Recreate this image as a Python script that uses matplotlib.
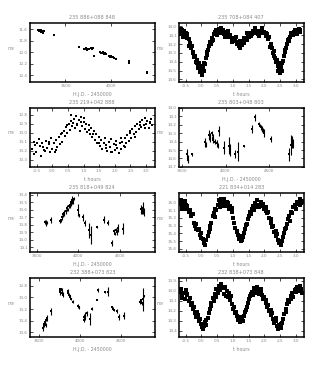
import matplotlib
matplotlib.use('Agg')
import matplotlib.pyplot as plt
import numpy as np

# ---- titles / labels
titles = ['235 886+088 848', '235 708+084 407',
          '235 219+042 888', '235 803+048 803',
          '235 818+049 824', '221 834+014 283',
          '232 388+073 823', '232 838+073 848']
time_label = 'H.J.D. - 2450000'
phase_label = 't hours'
mag_label = '$m_V$'
phase_ticks = [-0.5, 0.0, 0.5, 1.0, 1.5, 2.0, 2.5, 3.0]

# ---- panel 1 (time series)
t1_x = [3197, 3205, 3212, 3220, 3228, 3236, 3245, 3255, 3263, 3372,
        3653, 3700, 3712, 3725, 3738, 3750, 3762, 3775, 3788, 3800, 3810,
        3883, 3892, 3900, 3910, 3918, 3928, 3937, 3945,
        3982, 3992, 4002, 4012, 4022, 4035, 4051, 4194, 4196, 4394, 4400]
t1_y = [11.61, 11.63, 11.62, 11.64, 11.62, 11.65, 11.63, 11.66, 11.64, 11.71,
        11.91, 11.94, 11.95, 11.93, 11.96, 11.94, 11.95, 11.93, 11.94, 11.92, 12.06,
        12.00, 12.02, 12.01, 12.00, 12.03, 12.01, 12.02, 12.04,
        12.07, 12.08, 12.07, 12.09, 12.09, 12.10, 12.11, 12.15, 12.19, 12.35, 12.36]

# ---- panel 2 (phase)
p2_x = [-0.68, -0.65, -0.62, -0.60, -0.57, -0.55, -0.52, -0.50, -0.47, -0.44,
        -0.40, -0.36, -0.33, -0.30, -0.27, -0.24, -0.21, -0.18, -0.15, -0.12,
        -0.09, -0.06, -0.03, 0.00, 0.03, 0.06, 0.09, 0.12, 0.15, 0.18,
        0.21, 0.24, 0.27, 0.30, 0.33, 0.36, 0.40, 0.44, 0.48, 0.52,
        0.56, 0.60, 0.64, 0.68, 0.72, 0.76, 0.80, 0.84, 0.88, 0.92,
        0.96, 1.00, 1.04, 1.08, 1.12, 1.16, 1.20, 1.24, 1.28, 1.32,
        1.36, 1.40, 1.44, 1.48, 1.52, 1.56, 1.60, 1.64, 1.68, 1.72,
        1.76, 1.80, 1.84, 1.88, 1.92, 1.96, 2.00, 2.04, 2.08, 2.12,
        2.16, 2.20, 2.24, 2.27, 2.30, 2.33, 2.36, 2.39, 2.42, 2.45,
        2.48, 2.51, 2.54, 2.57, 2.60, 2.63, 2.66, 2.69, 2.72, 2.75,
        2.78, 2.82, 2.86, 2.90, 2.94, 2.98, 3.02, 3.06, 3.10, 3.14,
        -0.63, -0.58, -0.49, -0.38, -0.26, -0.14, -0.02, 0.07, 0.19, 0.34,
        0.50, 0.62, 0.74, 0.86, 0.98, 1.10, 1.22, 1.34, 1.46, 1.58,
        1.70, 1.82, 1.94, 2.06, 2.18, 2.31, 2.43, 2.55, 2.67, 2.80,
        2.92, 3.04, 3.12]
p2_y = [14.06, 14.09, 14.04, 14.08, 14.11, 14.05, 14.10, 14.07, 14.13, 14.09,
        14.14, 14.19, 14.25, 14.22, 14.30, 14.35, 14.33, 14.40, 14.38, 14.44,
        14.47, 14.42, 14.52, 14.49, 14.55, 14.46, 14.41, 14.43, 14.36, 14.32,
        14.27, 14.22, 14.18, 14.20, 14.13, 14.15, 14.09, 14.06, 14.04, 14.08,
        14.03, 14.05, 14.07, 14.04, 14.09, 14.06, 14.10, 14.08, 14.12, 14.10,
        14.15, 14.13, 14.17, 14.15, 14.20, 14.18, 14.22, 14.17, 14.21, 14.16,
        14.19, 14.13, 14.15, 14.10, 14.12, 14.07, 14.09, 14.05, 14.08, 14.04,
        14.06, 14.09, 14.05, 14.07, 14.04, 14.08, 14.06, 14.11, 14.09, 14.14,
        14.12, 14.20, 14.25, 14.30, 14.28, 14.36, 14.40, 14.38, 14.45, 14.50,
        14.47, 14.53, 14.46, 14.42, 14.39, 14.33, 14.29, 14.24, 14.20, 14.15,
        14.17, 14.12, 14.08, 14.10, 14.06, 14.04, 14.07, 14.05, 14.03, 14.06,
        14.03, 14.12, 14.10, 14.22, 14.29, 14.41, 14.45, 14.51, 14.29, 14.17,
        14.10, 14.02, 14.12, 14.05, 14.18, 14.12, 14.25, 14.13, 14.07, 14.11,
        14.02, 14.11, 14.02, 14.08, 14.23, 14.33, 14.41, 14.50, 14.27, 14.14,
        14.08, 14.09, 14.04]

# ---- panel 3 (phase)
p3_x = [-0.65, -0.60, -0.56, -0.52, -0.48, -0.44, -0.40, -0.36, -0.32, -0.28,
        -0.24, -0.20, -0.16, -0.12, -0.08, -0.04, 0.00, 0.04, 0.08, 0.12,
        0.16, 0.20, 0.24, 0.28, 0.32, 0.36, 0.40, 0.44, 0.48, 0.52,
        0.56, 0.60, 0.64, 0.68, 0.72, 0.76, 0.80, 0.84, 0.88, 0.92,
        0.96, 1.00, 1.04, 1.08, 1.12, 1.16, 1.20, 1.24, 1.28, 1.32,
        1.36, 1.40, 1.44, 1.48, 1.52, 1.56, 1.60, 1.64, 1.68, 1.72,
        1.76, 1.80, 1.84, 1.88, 1.92, 1.96, 2.00, 2.04, 2.08, 2.12,
        2.16, 2.20, 2.24, 2.28, 2.32, 2.36, 2.40, 2.44, 2.48, 2.52,
        2.56, 2.60, 2.64, 2.68, 2.72, 2.76, 2.80, 2.84, 2.88, 2.92,
        2.96, 3.00, 3.04, 3.08, 3.12, 3.16, 3.20,
        -0.58, -0.30, -0.10, 0.10, 0.30, 0.46, 0.58, 0.66, 0.78, 0.90,
        1.02, 1.18, 1.30, 1.50, 1.70, 1.86, 2.02, 2.18, 2.34, 2.50,
        2.66, 2.82, 2.98, 3.14]
p3_y = [13.18, 13.10, 13.14, 13.22, 13.12, 13.07, 13.15, 13.26, 13.11, 13.19,
        13.20, 13.09, 13.17, 13.13, 13.21, 13.06, 13.18, 13.12, 13.22, 13.08,
        13.16, 13.05, 13.13, 13.02, 13.10, 12.98, 13.04, 12.94, 13.00, 12.90,
        12.97, 12.87, 12.93, 12.85, 12.95, 12.82, 12.90, 12.86, 12.98, 12.88,
        12.93, 12.84, 12.96, 12.90, 12.99, 12.92, 13.02, 12.95, 13.05, 12.98,
        13.08, 13.02, 13.12, 13.05, 13.15, 13.08, 13.18, 13.11, 13.06, 13.14,
        13.20, 13.10, 13.16, 13.07, 13.22, 13.13, 13.19, 13.09, 13.17, 13.23,
        13.12, 13.18, 13.10, 13.15, 13.06, 13.12, 13.03, 13.09, 13.00, 13.06,
        12.96, 13.02, 12.93, 12.99, 12.90, 12.96, 12.88, 12.94, 12.86, 12.92,
        12.84, 12.90, 12.87, 12.95, 12.89, 12.85, 12.92,
        13.24, 13.16, 13.10, 13.19, 13.00, 12.92, 12.80, 12.89, 12.92, 12.83,
        12.88, 12.97, 13.01, 13.11, 13.17, 13.21, 13.14, 13.06, 13.16, 12.98,
        13.05, 12.92, 12.95, 12.88]

# ---- panel 4 (time series, with errors)
t4_x = [3550, 3560, 3570, 3615, 3763, 3775, 3810, 3825, 3840, 3850,
        3857, 3875, 3900, 3910, 3926, 3985, 4043, 4050, 4112, 4140,
        4217, 4306, 4345, 4390, 4400, 4410, 4420, 4430, 4445, 4527,
        4733, 4760, 4775, 4787]
t4_y = [14.55, 14.60, 14.62, 14.55, 14.41, 14.43, 14.32, 14.35, 14.30, 14.38,
        14.36, 14.40, 14.42, 14.45, 14.27, 14.47, 14.45, 14.50, 14.55, 14.52,
        14.45, 14.25, 14.11, 14.19, 14.21, 14.23, 14.25, 14.27, 14.30, 14.37,
        14.55, 14.44, 14.40, 14.42]
t4_e = [0.06, 0.04, 0.03, 0.02, 0.05, 0.03, 0.06, 0.05, 0.03, 0.04,
        0.05, 0.03, 0.04, 0.03, 0.06, 0.08, 0.10, 0.07, 0.05, 0.11,
        0.01, 0.05, 0.04, 0.02, 0.02, 0.03, 0.03, 0.03, 0.05, 0.04,
        0.08, 0.12, 0.07, 0.05]

# ---- panel 5 (time series, with errors)
t5_x = [3600, 3612, 3620, 3672, 3780, 3790, 3804, 3815, 3830, 3852,
        3860, 3870, 3882, 3896, 3905, 3915, 3925, 3935, 3945, 3992,
        4004, 4060, 4075, 4132, 4156, 4224, 4312, 4352, 4400, 4432,
        4440, 4450, 4460, 4472, 4540, 4752, 4765, 4780, 4790]
t5_y = [13.76, 13.78, 13.77, 13.73, 13.75, 13.74, 13.70, 13.66, 13.64, 13.62,
        13.58, 13.60, 13.55, 13.54, 13.50, 13.52, 13.47, 13.49, 13.45, 13.60,
        13.67, 13.70, 13.78, 13.87, 13.94, 13.83, 13.73, 13.77, 14.04, 13.88,
        13.92, 13.87, 13.90, 13.84, 13.85, 13.59, 13.62, 13.57, 13.63]
t5_e = [0.03, 0.04, 0.02, 0.04, 0.03, 0.02, 0.03, 0.03, 0.04, 0.03,
        0.04, 0.02, 0.03, 0.03, 0.04, 0.03, 0.05, 0.03, 0.02, 0.08,
        0.02, 0.05, 0.04, 0.10, 0.12, 0.01, 0.05, 0.03, 0.04, 0.03,
        0.02, 0.03, 0.04, 0.05, 0.07, 0.06, 0.04, 0.08, 0.05]

# ---- panel 6 (phase)
p6_x = [-0.68, -0.64, -0.60, -0.56, -0.52, -0.48, -0.44, -0.40, -0.36, -0.32,
        -0.28, -0.24, -0.20, -0.16, -0.12, -0.08, -0.04, 0.00, 0.04, 0.08,
        0.12, 0.16, 0.20, 0.24, 0.28, 0.32, 0.36, 0.40, 0.44, 0.48,
        0.52, 0.56, 0.60, 0.64, 0.68, 0.72, 0.76, 0.80, 0.84, 0.88,
        0.92, 0.96, 1.00, 1.04, 1.08, 1.12, 1.16, 1.20, 1.24, 1.28,
        1.32, 1.36, 1.40, 1.44, 1.48, 1.52, 1.56, 1.60, 1.64, 1.68,
        1.72, 1.76, 1.80, 1.84, 1.88, 1.92, 1.96, 2.00, 2.04, 2.08,
        2.12, 2.16, 2.20, 2.24, 2.28, 2.32, 2.36, 2.40, 2.44, 2.48,
        2.52, 2.56, 2.60, 2.64, 2.68, 2.72, 2.76, 2.80, 2.84, 2.88,
        2.92, 2.96, 3.00, 3.04, 3.08, 3.12, 3.16, 3.20,
        -0.62, -0.50, -0.34, -0.18, -0.02, 0.10, 0.26, 0.42, 0.58, 0.70,
        0.82, 0.98, 1.14, 1.26, 1.42, 1.58, 1.74, 1.90, 2.06, 2.22,
        2.38, 2.50, 2.66, 2.82, 2.98, 3.14]
p6_y = [15.02, 14.97, 15.06, 15.00, 14.98, 15.08, 15.04, 15.12, 15.10, 15.18,
        15.15, 15.26, 15.30, 15.28, 15.36, 15.34, 15.42, 15.40, 15.47, 15.52,
        15.55, 15.49, 15.44, 15.38, 15.30, 15.26, 15.18, 15.14, 15.08, 15.10,
        15.03, 14.97, 15.01, 14.95, 15.00, 14.96, 15.02, 15.05, 15.00, 15.08,
        15.04, 15.12, 15.20, 15.26, 15.33, 15.38, 15.42, 15.47, 15.44, 15.49,
        15.45, 15.40, 15.34, 15.28, 15.22, 15.18, 15.12, 15.08, 15.04, 15.10,
        15.00, 14.97, 15.03, 15.06, 14.99, 15.05, 15.02, 15.09, 15.06, 15.14,
        15.12, 15.20, 15.27, 15.32, 15.30, 15.38, 15.43, 15.41, 15.48, 15.52,
        15.55, 15.50, 15.45, 15.40, 15.33, 15.28, 15.22, 15.18, 15.12, 15.14,
        15.06, 15.03, 15.08, 14.99, 15.02, 14.96, 15.00, 14.98,
        15.08, 15.03, 15.16, 15.34, 15.46, 15.48, 15.35, 15.19, 15.06, 15.04,
        14.99, 15.07, 15.37, 15.50, 15.29, 15.15, 15.06, 15.01, 15.11, 15.22,
        15.37, 15.51, 15.35, 15.24, 15.05, 15.03]

# ---- panel 7 (time series, with errors)
t7_x = [3552, 3560, 3568, 3575, 3585, 3595, 3602, 3653, 3754, 3760,
        3765, 3772, 3778, 3784, 3790, 3855, 3862, 3868, 3875, 3885,
        3895, 3920, 3975, 3985, 4045, 4055, 4060, 4085, 4120, 4145,
        4210, 4222, 4310, 4338, 4391, 4400, 4410, 4447, 4471, 4532,
        4730, 4740, 4750, 4762, 4782]
t7_y = [13.52, 13.48, 13.45, 13.42, 13.47, 13.38, 13.35, 13.24, 12.86, 12.90,
        12.88, 12.85, 12.92, 12.87, 12.95, 12.88, 12.92, 12.95, 12.98, 13.00,
        13.03, 13.07, 13.15, 13.17, 13.33, 13.38, 13.32, 13.27, 13.37, 13.19,
        13.04, 12.87, 12.91, 12.90, 13.16, 13.19, 13.21, 13.23, 13.34, 13.31,
        13.08, 13.05, 13.10, 13.03, 12.97]
t7_e = [0.06, 0.03, 0.04, 0.03, 0.04, 0.02, 0.05, 0.06, 0.03, 0.05,
        0.03, 0.02, 0.04, 0.03, 0.05, 0.03, 0.02, 0.03, 0.02, 0.03,
        0.02, 0.02, 0.03, 0.02, 0.05, 0.04, 0.07, 0.04, 0.10, 0.02,
        0.01, 0.03, 0.02, 0.08, 0.02, 0.02, 0.02, 0.03, 0.05, 0.06,
        0.03, 0.02, 0.03, 0.20, 0.02]

# ---- panel 8 (phase)
p8_x = [-0.68, -0.64, -0.60, -0.56, -0.52, -0.48, -0.44, -0.40, -0.36, -0.32,
        -0.28, -0.24, -0.20, -0.16, -0.12, -0.08, -0.04, 0.00, 0.04, 0.08,
        0.12, 0.16, 0.20, 0.24, 0.28, 0.32, 0.36, 0.40, 0.44, 0.48,
        0.52, 0.56, 0.60, 0.64, 0.68, 0.72, 0.76, 0.80, 0.84, 0.88,
        0.92, 0.96, 1.00, 1.04, 1.08, 1.12, 1.16, 1.20, 1.24, 1.28,
        1.32, 1.36, 1.40, 1.44, 1.48, 1.52, 1.56, 1.60, 1.64, 1.68,
        1.72, 1.76, 1.80, 1.84, 1.88, 1.92, 1.96, 2.00, 2.04, 2.08,
        2.12, 2.16, 2.20, 2.24, 2.28, 2.32, 2.36, 2.40, 2.44, 2.48,
        2.52, 2.56, 2.60, 2.64, 2.68, 2.72, 2.76, 2.80, 2.84, 2.88,
        2.92, 2.96, 3.00, 3.04, 3.08, 3.12, 3.16, 3.20,
        -0.62, -0.46, -0.30, -0.14, 0.02, 0.14, 0.30, 0.46, 0.62, 0.78,
        0.94, 1.10, 1.26, 1.42, 1.58, 1.74, 1.90, 2.06, 2.22, 2.38,
        2.54, 2.70, 2.86, 3.02, 3.14]
p8_y = [14.01, 13.98, 14.05, 14.02, 14.08, 13.99, 14.04, 14.10, 14.07, 14.14,
        14.18, 14.16, 14.22, 14.26, 14.24, 14.30, 14.28, 14.33, 14.38, 14.35,
        14.31, 14.34, 14.27, 14.22, 14.18, 14.12, 14.07, 14.10, 14.03, 13.98,
        14.02, 13.95, 13.99, 13.94, 13.97, 14.03, 13.96, 14.00, 14.06, 14.02,
        14.09, 14.13, 14.18, 14.16, 14.22, 14.25, 14.29, 14.27, 14.31, 14.28,
        14.30, 14.25, 14.21, 14.16, 14.12, 14.08, 14.05, 14.01, 14.04, 13.97,
        14.00, 13.96, 13.99, 14.03, 13.98, 14.04, 14.08, 14.06, 14.12, 14.16,
        14.14, 14.20, 14.24, 14.22, 14.28, 14.32, 14.30, 14.35, 14.38, 14.34,
        14.37, 14.32, 14.28, 14.23, 14.18, 14.13, 14.09, 14.11, 14.05, 14.02,
        14.06, 13.99, 14.01, 13.96, 14.00, 13.95, 13.98, 14.02,
        14.07, 14.03, 14.12, 14.21, 14.36, 14.29, 14.15, 14.06, 13.93, 14.05,
        14.05, 14.21, 14.26, 14.19, 14.03, 14.02, 14.01, 14.09, 14.19, 14.27,
        14.33, 14.21, 14.08, 13.98, 13.96]

grey = '#8a8a8a'


def style(ax, title, xlabel, xticks, xlim, yticks, ylim):
    ax.set_title(title, fontsize=3.6, color=grey, pad=3)
    ax.set_xlabel(xlabel, fontsize=3.4, color=grey, labelpad=3)
    ax.set_ylabel(mag_label, fontsize=3.4, color=grey, rotation=0)
    ax.yaxis.set_label_coords(-0.145, 0.5)
    ax.set_xticks(xticks)
    ax.set_xticklabels(['%g' % v if abs(v) >= 100 else '%.1f' % v for v in xticks])
    ax.set_yticks(yticks)
    ax.set_yticklabels(['%.1f' % v for v in yticks])
    ax.set_xlim(xlim)
    ax.set_ylim(ylim)
    ax.tick_params(direction='in', length=2, width=0.5, labelsize=3,
                   labelcolor=grey, top=True, right=True, pad=1.5)
    for s in ax.spines.values():
        s.set_linewidth(1.1)


fig = plt.figure(figsize=(3.26, 3.66), dpi=100)
lx, rx, w = 0.092, 0.549, 0.382
bottoms = [0.776, 0.544, 0.311, 0.079]
h = 0.161

ax = fig.add_axes([lx, bottoms[0], w, h])
ax.plot(t1_x, t1_y, 's', color='k', ms=2.0, mew=0)
style(ax, titles[0], time_label, [3500, 4000], (3110, 4478),
      [11.6, 11.8, 12.0, 12.2, 12.4], (12.516, 11.496))

ax = fig.add_axes([rx, bottoms[0], w, h])
ax.plot(p2_x, p2_y, 's', color='k', ms=2.2, mew=0)
style(ax, titles[1], phase_label, phase_ticks, (-0.71, 3.245),
      [14.0, 14.1, 14.2, 14.3, 14.4, 14.5, 14.6], (14.63, 13.962))

ax = fig.add_axes([lx, bottoms[1], w, h])
ax.plot(p3_x, p3_y, 's', color='k', ms=2.0, mew=0)
style(ax, titles[2], phase_label, phase_ticks, (-0.72, 3.27),
      [12.8, 12.9, 13.0, 13.1, 13.2, 13.3], (13.381, 12.726))

ax = fig.add_axes([rx, bottoms[1], w, h])
ax.errorbar(t4_x, t4_y, yerr=t4_e, fmt='s', color='k', ms=2.0, mew=0,
            elinewidth=0.8, capsize=1, capthick=0.8)
style(ax, titles[3], time_label, [3500, 4000, 4500], (3461, 4903),
      [14.0, 14.1, 14.2, 14.3, 14.4, 14.5, 14.6, 14.7], (14.7, 14.0))

ax = fig.add_axes([lx, bottoms[2], w, h])
ax.errorbar(t5_x, t5_y, yerr=t5_e, fmt='s', color='k', ms=2.0, mew=0,
            elinewidth=0.8, capsize=1, capthick=0.8)
style(ax, titles[4], time_label, [3500, 4000, 4500], (3416, 4916),
      [13.4, 13.5, 13.6, 13.7, 13.8, 13.9, 14.0, 14.1], (14.163, 13.378))

ax = fig.add_axes([rx, bottoms[2], w, h])
ax.plot(p6_x, p6_y, 's', color='k', ms=2.2, mew=0)
style(ax, titles[5], phase_label, phase_ticks, (-0.71, 3.245),
      [15.0, 15.1, 15.2, 15.3, 15.4, 15.5, 15.6], (15.644, 14.88))

ax = fig.add_axes([lx, bottoms[3], w, h])
ax.errorbar(t7_x, t7_y, yerr=t7_e, fmt='s', color='k', ms=2.0, mew=0,
            elinewidth=0.8, capsize=1, capthick=0.8)
style(ax, titles[6], time_label, [3500, 4000, 4500], (3395, 4907),
      [12.8, 13.0, 13.2, 13.4, 13.6], (13.68, 12.668))

ax = fig.add_axes([rx, bottoms[3], w, h])
ax.plot(p8_x, p8_y, 's', color='k', ms=2.2, mew=0)
style(ax, titles[7], phase_label, phase_ticks, (-0.71, 3.245),
      [13.9, 14.0, 14.1, 14.2, 14.3, 14.4], (14.465, 13.874))

fig.savefig('out.png', dpi=100)
